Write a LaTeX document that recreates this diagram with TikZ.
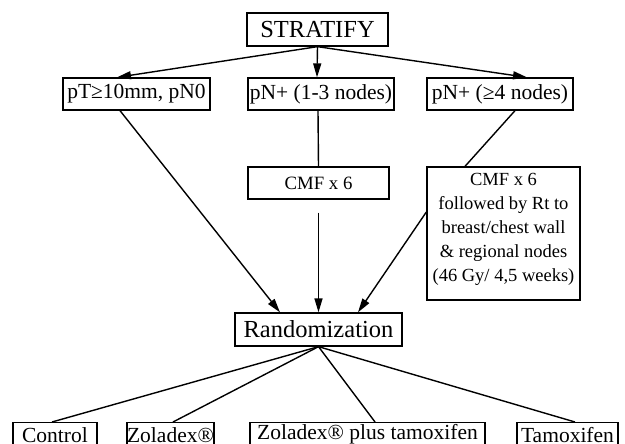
\documentclass[tikz,border=0pt]{standalone}
\usepackage{fontspec}
\setmainfont{Liberation Serif}
\usetikzlibrary{arrows.meta}
\tikzset{
  box/.style={draw, line width=1.3pt, inner sep=0pt, minimum height=32pt},
  link/.style={line width=1.4pt},
  arr/.style={link, -{Triangle[length=14pt,width=8pt]}},
  fontA/.style={font=\fontsize{24.5}{28}\selectfont},
  fontB/.style={font=\fontsize{21.5}{25}\selectfont},
  fontC/.style={font=\fontsize{18.8}{22}\selectfont},
  fontD/.style={font=\fontsize{18.5}{24}\selectfont, align=center},
  arm/.style={box, fontB, minimum height=24pt, anchor=north},
}

\begin{document}
\begin{tikzpicture}[x=1pt,y=-1pt]
        \useasboundingbox (0,0) rectangle (625,444);
        % strata
        \node[box, fontA, minimum width=141pt, minimum height=33pt] (strat) at (317.5,29.5) {STRATIFY};
        \node[box, fontB, minimum width=147pt] (nzero) at (136.5,94) {pT≥10mm, pN0};
        \node[box, fontB, minimum width=146pt] (nlow) at (321,94) {pN+ (1-3 nodes)};
        \node[box, fontB, minimum width=146pt] (nhigh) at (500,94) {pN+ (≥4 nodes)};
        % treatment before randomization
        \node[box, fontC, minimum width=141pt] (cmf) at (318.5,183) {CMF x 6};
        \node[box, fontD, minimum width=153pt, minimum height=133pt] (cmfrt) at (503.5,233.5)
            {CMF x 6\\ followed by Rt to\\ breast/chest wall\\ \& regional nodes\\ (46 Gy/ 4,5 weeks)\rule[-12pt]{0pt}{12pt}};
        \node[box, fontA, minimum width=167pt, minimum height=33pt] (rand) at (318.5,329.5) {Randomization};
        % arms
        \node[arm, minimum width=84pt] (ctrl) at (55,422) {Control};
        \node[arm, minimum width=85pt] (zol) at (170.5,422) {Zoladex®};
        \node[arm, minimum width=235pt] (zoltam) at (367.5,422) {Zoladex® plus tamoxifen};
        \node[arm, minimum width=101pt] (tam) at (567.5,422) {Tamoxifen};

        \draw[arr] (strat.south) -- ([xshift=-19.5pt]nzero.north);
        \draw[arr] (strat.south) -- ([xshift=-4pt]nlow.north);
        \draw[arr] (strat.south) -- ([xshift=27pt]nhigh.north);
        \draw[link] ([xshift=-3pt]nlow.south) -- (cmf.north);
        \draw[link] ([xshift=15pt]nhigh.south) -- ([xshift=-38.5pt]cmfrt.north);
        \draw[arr] ([xshift=-16.5pt]nzero.south) -- ([xshift=-38.5pt]rand.north);
        \draw[arr, shorten <=13pt] (cmf.south) -- (rand.north);
        \draw[arr] ([yshift=21.5pt]cmfrt.west) -- ([xshift=39.5pt]rand.north);
        \draw[link] (rand.south) -- ([xshift=-3pt]ctrl.north);
        \draw[link] (rand.south) -- ([xshift=2.5pt]zol.north);
        \draw[link] (rand.south) -- ([xshift=7.5pt]zoltam.north);
        \draw[link] (rand.south) -- ([xshift=7.5pt]tam.north);
\end{tikzpicture}
\end{document}
